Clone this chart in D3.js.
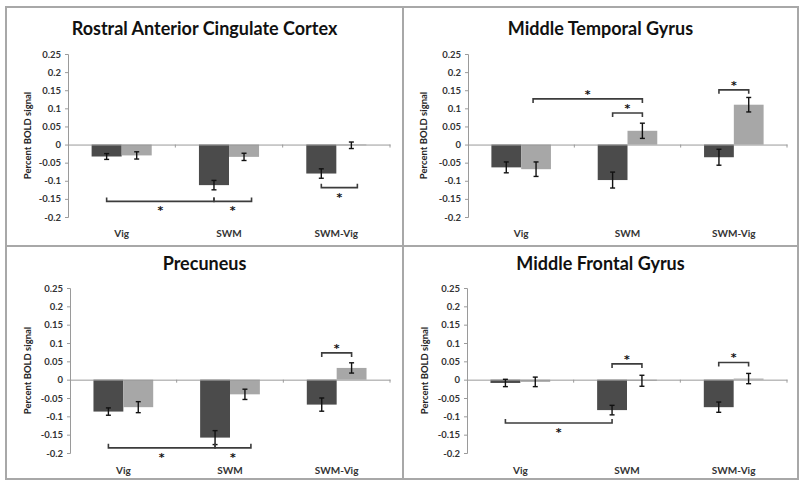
<!DOCTYPE html>
<html><head><meta charset="utf-8">
<script src="https://cdn.jsdelivr.net/npm/d3@7"></script>
<style>body{margin:0;background:#fff}svg{display:block}</style>
</head><body><svg id="c" width="800" height="482"></svg>
<script>
// ---- DATA ----
const categories = ["Vig", "SWM", "SWM-Vig"];
const yTicks = [0.25, 0.2, 0.15, 0.1, 0.05, 0, -0.05, -0.1, -0.15, -0.2];
const tickLabels = ["0.25", "0.2", "0.15", "0.1", "0.05", "0", "-0.05", "-0.1", "-0.15", "-0.2"];
const panelTitles = ["Rostral Anterior Cingulate Cortex", "Middle Temporal Gyrus", "Precuneus", "Middle Frontal Gyrus"];
const yAxisLabel = "Percent BOLD signal";
// series 1 (dark) and series 2 (light) means per panel, per category
const darkValues = [
  [-0.033, -0.112, -0.080],
  [-0.063, -0.098, -0.035],
  [-0.087, -0.158, -0.068],
  [-0.009, -0.083, -0.075]
];
const lightValues = [
  [-0.030, -0.034, -0.002],
  [-0.068, 0.038, 0.110],
  [-0.075, -0.040, 0.032],
  [-0.006, -0.003, 0.003]
];
const darkErrors = [
  [0.008, 0.013, 0.013],
  [0.015, 0.022, 0.022],
  [0.010, 0.019, 0.018],
  [0.010, 0.013, 0.014]
];
const lightErrors = [
  [0.010, 0.010, 0.009],
  [0.020, 0.021, 0.020],
  [0.015, 0.014, 0.014],
  [0.013, 0.015, 0.014]
];
// significance brackets: [panel, fromCat, fromSlot, toCat, toSlot, yValue, side(+1 star above / -1 star below)]
const brackets = [
  [0, 0, 0, 1, 0, -0.157, -1],
  [0, 1, 0, 1, 1.25, -0.157, -1],
  [0, 2, 0, 2, 1.2, -0.119, -1],
  [1, 0, 0.9, 1, 1, 0.126, 1],
  [1, 1, 0, 1, 1, 0.087, 1],
  [1, 2, 0, 2, 1, 0.151, 1],
  [2, 0, 0, 1, 0, -0.186, -1],
  [2, 1, 0, 1, 1.2, -0.186, -1],
  [2, 2, 0, 2, 1, 0.073, 1],
  [3, 0, 0, 1, 0, -0.118, -1],
  [3, 1, 0, 1, 1, 0.043, 1],
  [3, 2, 0, 2, 1, 0.047, 1]
];

// ---- LAYOUT ----
const panels = [
  {frame:[6,7,397,239],   plot:[68,390,54,217],  titleY:35, labelX:28, catY:237},
  {frame:[403,7,395,239], plot:[468,787,54,217], titleY:35, labelX:424, catY:237},
  {frame:[6,246,397,233], plot:[70,390,288,453], titleY:270, labelX:28, catY:474},
  {frame:[403,246,395,233], plot:[467,787,288,453], titleY:270, labelX:425, catY:474}
];
const FONT = "Lato, 'Open Sans', sans-serif";
const svg = d3.select("#c");

// frame
svg.append("rect").attr("x",6).attr("y",7).attr("width",792).attr("height",472)
  .attr("fill","none").attr("stroke","#a8a8a8").attr("stroke-width",2);
svg.append("line").attr("x1",403).attr("x2",403).attr("y1",7).attr("y2",479).attr("stroke","#a8a8a8").attr("stroke-width",2);
svg.append("line").attr("x1",6).attr("x2",798).attr("y1",246).attr("y2",246).attr("stroke","#a8a8a8").attr("stroke-width",2);

panels.forEach((p, pi) => {
  const [x0, x1, yTop, yBot] = p.plot;
  const x = d3.scaleBand().domain(categories).range([x0, x1]).paddingInner(0).paddingOuter(0);
  const y = d3.scaleLinear().domain([-0.2, 0.25]).range([yBot, yTop]);
  const bw = x.bandwidth() * 0.28;
  const g = svg.append("g");
  const slotX = (ci, slot) => x(categories[ci]) + x.bandwidth()/2 + (slot - 0.5) * bw;

  // title
  g.append("text").attr("x", (p.frame[0] + p.frame[0] + p.frame[2]) / 2).attr("y", p.titleY)
    .attr("text-anchor","middle").attr("font-family",FONT).attr("font-weight","bold")
    .attr("font-size",18).attr("fill","#111").text(panelTitles[pi]);

  // y axis
  const yAxis = d3.axisLeft(y).tickValues(yTicks).tickSize(3).tickPadding(4)
    .tickFormat((d,i) => tickLabels[i]);
  const ya = g.append("g").attr("transform",`translate(${x0},0)`).call(yAxis);
  ya.select(".domain").attr("stroke","#9a9a9a").attr("stroke-width",1);
  ya.selectAll(".tick line").attr("stroke","#9a9a9a");
  ya.selectAll(".tick text").attr("font-family",FONT).attr("font-weight","bold")
    .attr("font-size",9.5).attr("fill","#333");

  // y label
  g.append("text").attr("transform",`translate(${p.labelX},${(yTop+yBot)/2}) rotate(-90)`)
    .attr("text-anchor","middle").attr("dy","0.35em").attr("font-family",FONT).attr("font-weight","bold")
    .attr("font-size",9.5).attr("fill","#222").text(yAxisLabel);

  // bars
  categories.forEach((c, ci) => {
    [[darkValues, "#4b4b4b", 0], [lightValues, "#a7a7a7", 1]].forEach(([vals, col, s]) => {
      const v = vals[pi][ci];
      const cx = slotX(ci, s);
      g.append("rect").attr("x", cx - bw/2).attr("width", bw)
        .attr("y", y(Math.max(0, v))).attr("height", Math.abs(y(v) - y(0)))
        .attr("fill", col);
    });
  });

  // x axis line at zero
  const xa = g.append("g").attr("transform",`translate(0,${y(0)})`)
    .call(d3.axisBottom(x).tickSize(0).tickFormat(""));
  xa.select(".domain").attr("stroke","#9a9a9a").attr("stroke-width",1);
  const bounds = categories.map(c => x(c)).concat([x1]);
  g.selectAll(".bt").data(bounds.slice(1)).enter().append("line")
    .attr("x1", d=>d).attr("x2", d=>d).attr("y1", y(0)).attr("y2", y(0)+3)
    .attr("stroke","#9a9a9a");

  // category labels
  categories.forEach(c => {
    g.append("text").attr("x", x(c) + x.bandwidth()/2).attr("y", p.catY)
      .attr("text-anchor","middle").attr("font-family",FONT).attr("font-weight","bold")
      .attr("font-size",10).attr("fill","#333").text(c);
  });

  // error bars
  categories.forEach((c, ci) => {
    [[darkValues, darkErrors, 0], [lightValues, lightErrors, 1]].forEach(([vals, errs, s]) => {
      const v = vals[pi][ci], e = errs[pi][ci];
      const cx = slotX(ci, s);
      const eg = g.append("g").attr("stroke","#111").attr("stroke-width",1.4);
      eg.append("line").attr("x1",cx).attr("x2",cx).attr("y1",y(v+e)).attr("y2",y(v-e));
      eg.append("line").attr("x1",cx-2.5).attr("x2",cx+2.5).attr("y1",y(v+e)).attr("y2",y(v+e));
      eg.append("line").attr("x1",cx-2.5).attr("x2",cx+2.5).attr("y1",y(v-e)).attr("y2",y(v-e));
    });
  });

  // brackets
  brackets.filter(b => b[0] === pi).forEach(b => {
    const [, fc, fs, tc, ts, yv, side] = b;
    const xa1 = slotX(fc, fs), xa2 = slotX(tc, ts), yy = y(yv);
    const tick = side > 0 ? 4 : -4;
    g.append("path").attr("d", `M${xa1},${yy+tick}V${yy}H${xa2}V${yy+tick}`)
      .attr("fill","none").attr("stroke","#3c3c3c").attr("stroke-width",1.6);
    const baseY = side > 0 ? yy - 1 : yy + 13;
    g.append("text").attr("x",(xa1+xa2)/2).attr("y", baseY)
      .attr("text-anchor","middle").attr("font-family","DejaVu Sans").attr("font-weight","bold")
      .attr("font-size",11).attr("fill","#111").text("*");
  });
});
</script></body></html>
